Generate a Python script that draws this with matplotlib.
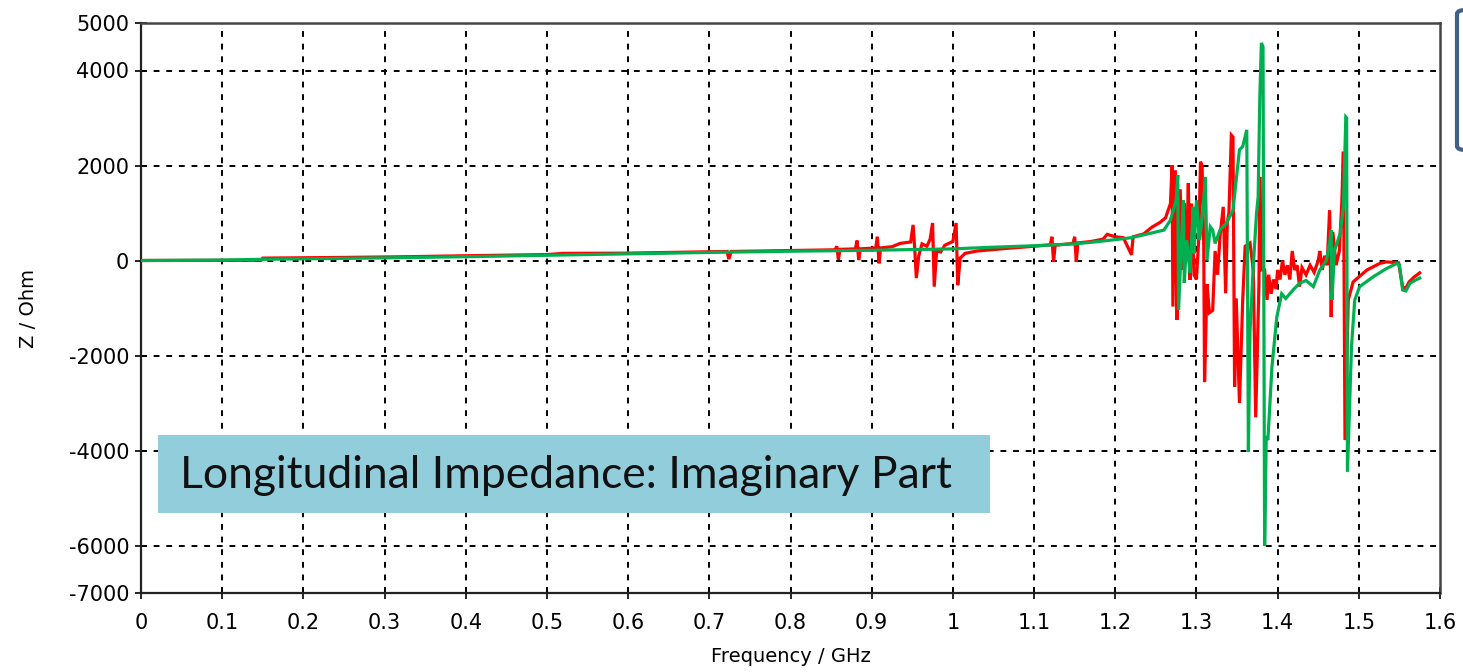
import matplotlib
matplotlib.use("Agg")
import matplotlib.pyplot as plt
from matplotlib.patches import Rectangle, FancyBboxPatch

# frequency (GHz) / imaginary impedance (Ohm)
green_f = [0.000, 0.100, 0.150, 0.200, 0.300, 0.400, 0.500, 0.600, 0.700, 0.800,
           0.900, 1.000, 1.050, 1.100, 1.150, 1.180, 1.200, 1.220, 1.240, 1.260,
           1.268, 1.275, 1.277, 1.278, 1.282, 1.284, 1.285, 1.288, 1.292, 1.296,
           1.297, 1.300, 1.304, 1.308, 1.311, 1.313, 1.317, 1.320, 1.323, 1.329,
           1.337, 1.345, 1.349, 1.353, 1.357, 1.362, 1.364, 1.366, 1.370, 1.374,
           1.376, 1.378, 1.380, 1.382, 1.384, 1.386, 1.388, 1.393, 1.399, 1.405,
           1.410, 1.419, 1.427, 1.435, 1.444, 1.452, 1.460, 1.464, 1.466, 1.467,
           1.470, 1.477, 1.481, 1.484, 1.485, 1.486, 1.491, 1.495, 1.501, 1.518,
           1.534, 1.547, 1.550, 1.554, 1.558, 1.563, 1.569, 1.575]
green_z = [0, 10, 25, 35, 55, 80, 110, 140, 170, 195,
           215, 245, 280, 310, 350, 400, 440, 480, 560, 640,
           850, 1270, 1800, -1040, 570, 1270, -470, 430, -260, 1130,
           150, 1270, 430, 1060, 1760, 0, 710, 640, 360, 640,
           790, 1060, 1700, 2330, 2400, 2750, -4030, -1500, -130, 1000,
           1340, 3400, 4580, 4500, -6000, -3700, -3780, -2240, -1190, -700,
           -800, -620, -480, -420, -550, -200, 0, 370, 640, -830,
           200, 570, 1130, 3020, 3000, -4450, -1810, -830, -550, -340,
           -170, -60, -90, -620, -640, -480, -420, -370]

red_f = [0.000, 0.148, 0.150, 0.250, 0.330, 0.400, 0.500, 0.520, 0.600, 0.650,
         0.700, 0.722, 0.724, 0.727, 0.780, 0.800, 0.855, 0.857, 0.859, 0.861,
         0.880, 0.882, 0.884, 0.886, 0.905, 0.907, 0.909, 0.911, 0.925, 0.935,
         0.948, 0.951, 0.953, 0.955, 0.958, 0.962, 0.968, 0.972, 0.975, 0.977,
         0.980, 0.985, 0.990, 1.000, 1.004, 1.006, 1.009, 1.015, 1.030, 1.050,
         1.070, 1.100, 1.120, 1.122, 1.124, 1.126, 1.148, 1.150, 1.152, 1.154,
         1.170, 1.185, 1.190, 1.200, 1.210, 1.220, 1.222, 1.235, 1.245, 1.255,
         1.262, 1.268, 1.270, 1.271, 1.274, 1.276, 1.278, 1.280, 1.283, 1.285,
         1.287, 1.289, 1.290, 1.292, 1.294, 1.297, 1.300, 1.303, 1.305, 1.307,
         1.309, 1.310, 1.313, 1.316, 1.320, 1.323, 1.326, 1.329, 1.333, 1.336,
         1.338, 1.340, 1.343, 1.345, 1.347, 1.349, 1.353, 1.357, 1.360, 1.366,
         1.370, 1.373, 1.377, 1.378, 1.380, 1.384, 1.387, 1.389, 1.392, 1.395,
         1.398, 1.400, 1.403, 1.406, 1.409, 1.412, 1.415, 1.418, 1.421, 1.424,
         1.427, 1.430, 1.435, 1.440, 1.445, 1.450, 1.452, 1.455, 1.458, 1.461,
         1.464, 1.466, 1.468, 1.472, 1.476, 1.479, 1.481, 1.483, 1.487, 1.493,
         1.510, 1.526, 1.534, 1.543, 1.549, 1.554, 1.558, 1.562, 1.568, 1.575]
red_z = [0, 5, 50, 65, 80, 100, 125, 150, 155, 170,
         185, 190, 30, 190, 205, 210, 225, 300, 20, 235,
         245, 420, 10, 245, 265, 500, -60, 265, 290, 360,
         390, 750, 250, -370, 100, 350, 300, 450, 790, -550,
         200, 180, 320, 400, 790, -520, 50, 150, 200, 230,
         260, 300, 330, 500, -30, 320, 360, 500, -30, 370,
         400, 450, 550, 500, 480, 120, 500, 560, 700, 800,
         900, 1200, 2010, -970, 1900, -1250, 300, 1500, -200, 1200,
         200, 900, 1630, -410, 1200, -300, -400, 500, 2080, 2000,
         300, -2560, -500, -1100, -1050, 200, -300, 500, 1130, -690,
         800, 1000, 2640, 2600, -2660, -800, -3000, -830, 300, 370,
         -200, -3300, -500, 1760, -200, -200, -830, -300, -700, -400,
         -600, -200, -400, 0, -300, -100, -400, 200, -200, -100,
         -550, -150, -300, -100, -250, 0, 200, -200, 100, -100,
         1060, -1190, 600, -100, 200, 1200, 2290, -3780, -830, -450,
         -200, -60, -30, -40, -50, -560, -580, -450, -350, -260]

x_ticks = [0, 0.1, 0.2, 0.3, 0.4, 0.5, 0.6, 0.7, 0.8, 0.9, 1.0, 1.1, 1.2, 1.3, 1.4, 1.5, 1.6]
x_labels = ["0", "0.1", "0.2", "0.3", "0.4", "0.5", "0.6", "0.7", "0.8", "0.9",
            "1", "1.1", "1.2", "1.3", "1.4", "1.5", "1.6"]
y_ticks = [5000, 4000, 2000, 0, -2000, -4000, -6000, -7000]
y_grid = [4000, 2000, 0, -2000, -4000, -6000]

W, H = 1463, 672
fig = plt.figure(figsize=(W / 100, H / 100), dpi=100)
ax = fig.add_axes([141 / W, 1 - 593 / H, (1440 - 141) / W, (593 - 23) / H])

ax.plot(red_f, red_z, color="#ff0000", lw=2.3, solid_joinstyle="miter", zorder=3)
ax.plot(green_f, green_z, color="#00b050", lw=2.3, solid_joinstyle="miter", zorder=4)

ax.set_xlim(0, 1.6)
ax.set_ylim(-7000, 5000)
ax.set_xticks(x_ticks)
ax.set_xticklabels(x_labels)
ax.set_yticks(y_ticks)
ax.set_yticklabels([str(v) for v in y_ticks])
ax.tick_params(direction="inout", length=9, width=1.2, labelsize=15)
ax.tick_params(axis="x", pad=10)
ax.tick_params(axis="y", pad=4)

for xv in x_ticks[1:-1]:
    ax.axvline(xv, color="black", lw=1.4, ls=(0, (3, 3.5)), zorder=1)
for yv in y_grid:
    ax.axhline(yv, color="black", lw=1.4, ls=(0, (3, 3.5)), zorder=1)

for s in ["left", "bottom"]:
    ax.spines[s].set_color("#222222")
    ax.spines[s].set_linewidth(1.6)
for s in ["top", "right"]:
    ax.spines[s].set_color("#444444")
    ax.spines[s].set_linewidth(1.8)

ax.set_xlabel("Frequency / GHz", fontsize=14, labelpad=10)
ax.set_ylabel("Z / Ohm", fontsize=14, labelpad=22)

# caption box
fig.patches.append(Rectangle((158 / W, 1 - 513 / H), (990 - 158) / W, (513 - 435) / H,
                             transform=fig.transFigure, facecolor="#92cddc",
                             edgecolor="none", zorder=5))
fig.text(180 / W, 1 - 476 / H, "Longitudinal Impedance: Imaginary Part",
         family=["Lato", "DejaVu Sans"], fontsize=32, color="#111111",
         va="center", ha="left", zorder=6)

# legend box edge poking in at the right
fig.patches.append(FancyBboxPatch((1457 / W, 1 - 150 / H), 40 / W, 140 / H,
                                  boxstyle="round,pad=0,rounding_size=0.006",
                                  transform=fig.transFigure, facecolor="white",
                                  edgecolor="#41608a", lw=3))

fig.savefig("out.png", dpi=100)
